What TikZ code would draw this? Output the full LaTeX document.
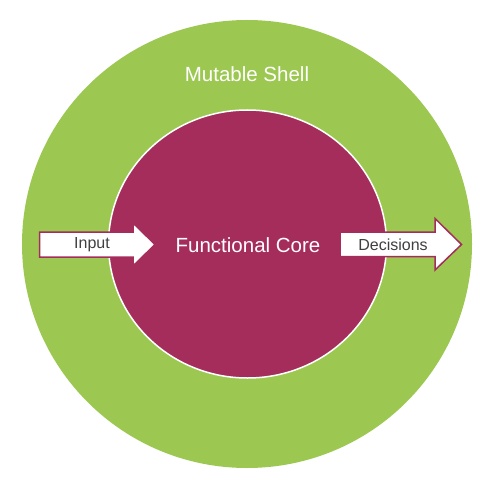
\documentclass[tikz,border=0pt]{standalone}
\usepackage{fontspec}
\setmainfont{Liberation Sans}
\definecolor{shellgreen}{HTML}{9CC852}
\definecolor{corered}{HTML}{A52D5B}
\definecolor{txtgray}{HTML}{404040}
\begin{document}
\begin{tikzpicture}[x=1bp,y=-1bp,
  blockarrow/.style={fill=white,draw=corered,line width=1.5bp,line join=miter},
  bigtext/.style={text=white,font=\fontsize{20.5bp}{24bp}\selectfont,inner sep=0pt},
  arrowtext/.style={text=txtgray,font=\fontsize{16bp}{19bp}\selectfont,inner sep=0pt}]
\useasboundingbox (0,0) rectangle (496,487);
\fill[white] (0,0) rectangle (496,487);
\fill[shellgreen] (247,244) circle[x radius=225,y radius=224];
\fill[corered,draw=white,line width=1.5bp] (247.5,244) ellipse[x radius=139,y radius=134];
\node[bigtext] (shell) at (247,74) {Mutable Shell};
\node[bigtext] (core) at (248,245) {Functional Core};
% Input arrow
\draw[blockarrow] (39.5,232) -- (133,232) -- (133,223) -- (155,244.5) -- (133,266) -- (133,257) -- (39.5,257) -- cycle;
\node[arrowtext] (input) at (92,245) {Input};
% Decisions arrow
\draw[blockarrow] (340,232) -- (435,232) -- (435,218.5) -- (461.5,244.5) -- (435,270) -- (435,256.5) -- (340,256.5) -- cycle;
\node[arrowtext] (decisions) at (393,245) {Decisions};
\end{tikzpicture}
\end{document}
